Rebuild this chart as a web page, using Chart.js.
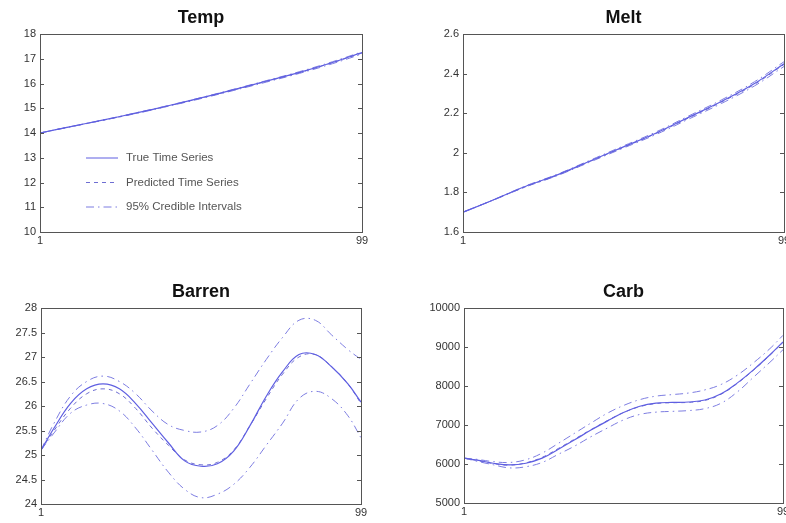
<!DOCTYPE html>
<html><head><meta charset="utf-8">
<script src="https://cdn.jsdelivr.net/npm/chart.js@4.4.0/dist/chart.umd.min.js"></script>
<style>
html,body{margin:0;padding:0;background:#fff;overflow:hidden;width:786px;height:523px;position:relative;}
canvas{position:absolute;display:block;}
</style></head><body>
<canvas id="cTemp" width="393" height="260" style="left:0;top:0"></canvas>
<canvas id="cMelt" width="400" height="260" style="left:393px;top:0"></canvas>
<canvas id="cBarren" width="393" height="263" style="left:0;top:260px"></canvas>
<canvas id="cCarb" width="410" height="263" style="left:383px;top:260px"></canvas>
<script>
// ---- data ----
const xTickLabels = [1, 99];
const xTM = [1, 10, 20, 30, 40, 50, 60, 70, 80, 90, 99];
const tempTrue  = [14.00, 14.25, 14.52, 14.80, 15.10, 15.42, 15.75, 16.10, 16.45, 16.85, 17.25];
const tempPred  = [14.00, 14.25, 14.51, 14.79, 15.09, 15.41, 15.74, 16.09, 16.44, 16.84, 17.23];
const tempUpper = [14.00, 14.25, 14.52, 14.81, 15.11, 15.43, 15.77, 16.12, 16.48, 16.88, 17.28];
const tempLower = [14.00, 14.24, 14.51, 14.78, 15.08, 15.39, 15.72, 16.06, 16.41, 16.80, 17.19];
const meltTrue  = [1.700, 1.760, 1.830, 1.890, 1.960, 2.030, 2.100, 2.180, 2.260, 2.350, 2.450];
const meltPred  = [1.700, 1.760, 1.828, 1.888, 1.958, 2.028, 2.098, 2.177, 2.257, 2.346, 2.446];
const meltUpper = [1.700, 1.761, 1.832, 1.893, 1.964, 2.035, 2.106, 2.187, 2.268, 2.359, 2.460];
const meltLower = [1.700, 1.759, 1.827, 1.886, 1.955, 2.024, 2.093, 2.171, 2.250, 2.338, 2.436];
const xBC = [1, 5, 10, 15, 20, 25, 30, 35, 40, 45, 50, 55, 60, 65, 70, 75, 80, 85, 90, 95, 99];
const barrenTrue  = [25.10, 25.55, 26.05, 26.35, 26.45, 26.35, 26.05, 25.65, 25.25, 24.88, 24.77, 24.82, 25.08, 25.60, 26.20, 26.70, 27.05, 27.05, 26.80, 26.45, 26.08];
const barrenPred  = [25.10, 25.50, 25.95, 26.25, 26.35, 26.25, 25.95, 25.55, 25.20, 24.90, 24.80, 24.85, 25.10, 25.60, 26.15, 26.65, 27.00, 27.05, 26.80, 26.45, 26.05];
const barrenUpper = [25.10, 25.65, 26.20, 26.50, 26.61, 26.50, 26.25, 25.90, 25.62, 25.50, 25.47, 25.60, 25.95, 26.45, 26.95, 27.40, 27.75, 27.75, 27.45, 27.15, 26.95];
const barrenLower = [25.10, 25.45, 25.85, 26.02, 26.05, 25.90, 25.55, 25.10, 24.65, 24.30, 24.13, 24.20, 24.40, 24.75, 25.20, 25.65, 26.15, 26.30, 26.15, 25.80, 25.35];
const carbTrue  = [6150, 6100, 6020, 5980, 6020, 6150, 6380, 6620, 6870, 7100, 7320, 7480, 7560, 7580, 7590, 7640, 7800, 8080, 8420, 8800, 9130];
const carbPred  = [6150, 6090, 6010, 5970, 6030, 6170, 6400, 6640, 6880, 7110, 7320, 7470, 7550, 7570, 7580, 7630, 7790, 8070, 8410, 8790, 9120];
const carbUpper = [6150, 6120, 6060, 6040, 6110, 6280, 6530, 6790, 7050, 7300, 7500, 7650, 7740, 7780, 7820, 7900, 8040, 8280, 8600, 8960, 9300];
const carbLower = [6150, 6070, 5980, 5900, 5930, 6040, 6250, 6460, 6700, 6920, 7130, 7270, 7330, 7350, 7370, 7420, 7560, 7850, 8230, 8610, 8930];
const legendLabels = ['True Time Series', 'Predicted Time Series', '95% Credible Intervals'];

// ---- styling ----
const FONT = '"Liberation Sans", Arial, Helvetica, sans-serif';
const TRUE_C = 'rgb(95,95,225)';
const PRED_C = 'rgb(110,110,210)';
const INT_C = 'rgb(125,125,225)';
const PRED_DASH = [4, 4];
const INT_DASH = [8, 4, 1.5, 4];

const framePlugin = {
  id: 'frame',
  afterDraw(chart) {
    const a = chart.chartArea, ctx = chart.ctx, ys = chart.scales.y;
    ctx.save();
    ctx.strokeStyle = '#555'; ctx.lineWidth = 1;
    ctx.strokeRect(Math.round(a.left) + 0.5, Math.round(a.top) + 0.5, Math.round(a.right - a.left), Math.round(a.bottom - a.top));
    ctx.beginPath();
    ys.ticks.forEach(t => {
      const y = Math.round(ys.getPixelForValue(t.value)) + 0.5;
      ctx.moveTo(a.left, y); ctx.lineTo(a.left + 4, y);
      ctx.moveTo(a.right - 4, y); ctx.lineTo(a.right, y);
    });
    ctx.stroke();
    const t = chart.options.plugins.panelTitle;
    if (t && t.text) {
      ctx.fillStyle = '#111';
      ctx.font = 'bold 18px ' + FONT;
      ctx.textAlign = 'center'; ctx.textBaseline = 'middle';
      ctx.fillText(t.text, (a.left + a.right) / 2, a.top - 16);
    }
    const lg = chart.options.plugins.innerLegend;
    if (lg && lg.show) {
      const styles = [[TRUE_C, []], [PRED_C, PRED_DASH], [INT_C, INT_DASH]];
      legendLabels.forEach((lab, i) => {
        const y = a.top + 124 + i * 24.5;
        ctx.strokeStyle = styles[i][0]; ctx.setLineDash(styles[i][1]); ctx.lineWidth = 1;
        ctx.beginPath(); ctx.moveTo(a.left + 46, y); ctx.lineTo(a.left + 78, y); ctx.stroke();
        ctx.setLineDash([]);
        ctx.fillStyle = '#555'; ctx.font = '11.5px ' + FONT;
        ctx.textAlign = 'left'; ctx.textBaseline = 'middle';
        ctx.fillText(lab, a.left + 86, y);
      });
    }
    ctx.restore();
  }
};

function pts(xs, ys) { return xs.map((x, i) => ({ x: x, y: ys[i] })); }

function makePanel(id, title, xs, tr, pr, up, lo, yMin, yMax, yStep, pad, showLegend) {
  const ds = (label, arr, color, dash, width, order) => ({
    label: label, data: pts(xs, arr), borderColor: color, borderDash: dash,
    borderWidth: width, pointRadius: 0, tension: 0.4, fill: false, order: order
  });
  new Chart(document.getElementById(id), {
    type: 'line',
    data: {
      datasets: [
        ds(legendLabels[0], tr, TRUE_C, [], 1.2, 1),
        ds(legendLabels[1], pr, PRED_C, PRED_DASH, 1, 2),
        ds(legendLabels[2], up, INT_C, INT_DASH, 1, 3),
        ds(legendLabels[2], lo, INT_C, INT_DASH, 1, 4)
      ]
    },
    options: {
      responsive: false, animation: false, devicePixelRatio: 1,
      layout: { padding: { left: pad.left, right: pad.right, top: pad.top, bottom: 0 } },
      plugins: { legend: { display: false }, tooltip: { enabled: false },
        panelTitle: { text: title }, innerLegend: { show: showLegend } },
      scales: {
        x: {
          type: 'linear', min: 1, max: 99,
          afterBuildTicks: s => { s.ticks = xTickLabels.map(v => ({ value: v })); },
          afterFit: s => { s.height = pad.xh; },
          grid: { display: false, drawTicks: false }, border: { display: false },
          ticks: { padding: 2, color: '#333', font: { family: FONT, size: 11 }, maxRotation: 0, autoSkip: false,
                   callback: v => String(v) }
        },
        y: {
          min: yMin, max: yMax,
          afterFit: s => { s.width = pad.yw; },
          grid: { display: false, drawTicks: false }, border: { display: false },
          ticks: { stepSize: yStep, padding: 4, color: '#333', font: { family: FONT, size: 11 },
                   callback: v => String(Math.round(v * 1000) / 1000) }
        }
      }
    },
    plugins: [framePlugin]
  });
}

makePanel('cTemp', 'Temp', xTM, tempTrue, tempPred, tempUpper, tempLower, 10, 18, 1,
  { left: 0, yw: 40, right: 31, top: 34, xh: 28 }, true);
makePanel('cMelt', 'Melt', xTM, meltTrue, meltPred, meltUpper, meltLower, 1.6, 2.6, 0.2,
  { left: 40, yw: 30, right: 9, top: 34, xh: 28 }, false);
makePanel('cBarren', 'Barren', xBC, barrenTrue, barrenPred, barrenUpper, barrenLower, 24, 28, 0.5,
  { left: 0, yw: 41, right: 32, top: 48, xh: 19 }, false);
makePanel('cCarb', 'Carb', xBC, carbTrue, carbPred, carbUpper, carbLower, 5000, 10000, 1000,
  { left: 0, yw: 81, right: 10, top: 48, xh: 20 }, false);
</script>
</body></html>
